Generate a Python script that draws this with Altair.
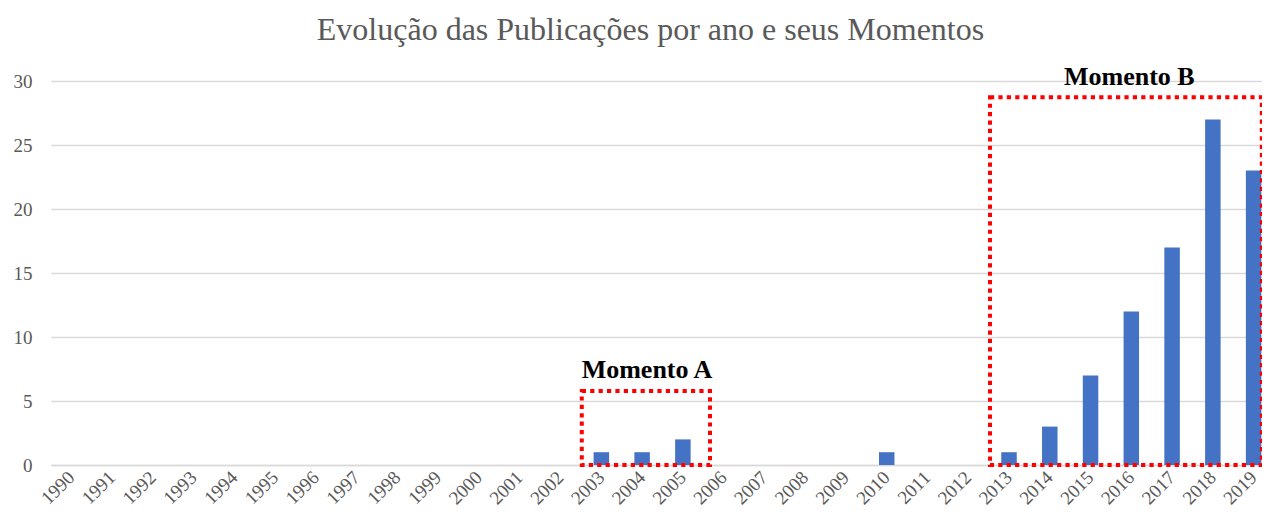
import altair as alt
import pandas as pd

years = [str(y) for y in range(1990, 2020)]
counts = [0, 0, 0, 0, 0, 0, 0, 0, 0, 0, 0, 0, 0, 1, 1, 2, 0, 0, 0, 0, 1, 0, 0, 1, 3, 7, 12, 17, 27, 23]

box_start = ["2003", "2013"]
box_end = ["2006", "2019"]
box_top = [5.78, 28.73]
box_bottom = [0, 0]

label_text = ["Momento A", "Momento B"]
label_year = ["2004", "2016"]
label_y = [6.8, 29.66]

FONT = "Liberation Serif"
GREY = "#595959"

bars_df = pd.DataFrame({"ano": years, "n": counts})
boxA = pd.DataFrame({"s": [box_start[0]], "e": [box_end[0]], "t": [box_top[0]], "b": [box_bottom[0]]})
boxB = pd.DataFrame({"s": [box_start[1]], "e": [box_end[1]], "t": [box_top[1]], "b": [box_bottom[1]]})
labA = pd.DataFrame({"txt": [label_text[0]], "yr": [label_year[0]], "v": [label_y[0]]})
labB = pd.DataFrame({"txt": [label_text[1]], "yr": [label_year[1]], "v": [label_y[1]]})

xscale = alt.Scale(domain=years, range=[0, 1223], paddingInner=0, paddingOuter=0)
yscale = alt.Scale(domain=[0, 30], nice=False)

bars = alt.Chart(bars_df).mark_bar(color="#4472C4", width={"band": 0.38}).encode(
    x=alt.X("ano:N", scale=xscale, sort=None, title=None,
            axis=alt.Axis(labelAngle=-45, labelAlign="right", labelBaseline="middle",
                          labelPadding=9, ticks=False, domain=True, domainColor="#D9D9D9",
                          domainWidth=1.3, labelFont=FONT, labelFontSize=19, labelColor=GREY,
                          grid=False)),
    y=alt.Y("n:Q", scale=yscale, title=None,
            axis=alt.Axis(values=[0, 5, 10, 15, 20, 25, 30], ticks=False, domain=False,
                          gridColor="#D9D9D9", gridWidth=1.3, labelFont=FONT,
                          labelFontSize=19, labelColor=GREY, labelPadding=19)),
)

def box(df, s_bp, e_bp):
    return alt.Chart(df).mark_rect(fill=None, fillOpacity=0, stroke="#FF0000", strokeWidth=4,
                                   strokeDash=[4.2, 4.2]).encode(
        x=alt.X("s:N", scale=xscale, bandPosition=s_bp),
        x2=alt.X2("e:N", bandPosition=e_bp),
        y=alt.Y("t:Q", scale=yscale),
        y2=alt.Y2("b:Q"),
    )

def label(df, bp):
    return alt.Chart(df).mark_text(font=FONT, fontSize=26, fontWeight="bold", color="#000000",
                                   baseline="alphabetic", align="center").encode(
        x=alt.X("yr:N", scale=xscale, bandPosition=bp),
        y=alt.Y("v:Q", scale=yscale),
        text="txt:N",
    )

chart = alt.layer(
    bars, box(boxA, 0.02, 0.165), box(boxB, 0.034, 0.7), label(labA, 0.62), label(labB, 0.45)
).properties(
    width=1211, height=384,
    title=alt.TitleParams("Evolução das Publicações por ano e seus Momentos", font=FONT,
                          fontSize=32, fontWeight="normal", color=GREY, anchor="middle",
                          dx=-6, offset=17),
    padding={"top": 73, "left": 43, "right": 0, "bottom": 43},
    autosize=alt.AutoSizeParams(type="none"),
).configure_view(stroke=None)

chart.save("out.html", embed_options={"renderer": "svg", "actions": False})
